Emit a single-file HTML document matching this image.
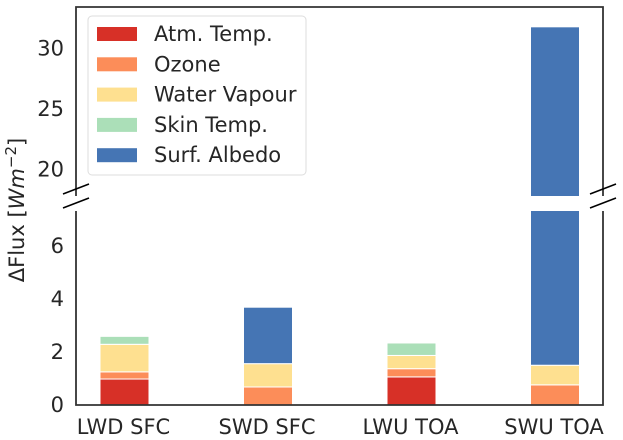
<!DOCTYPE html>
<html><head><meta charset="utf-8"><style>
body{margin:0;background:#fff;}
svg{display:block;font-family:"DejaVu Sans","Liberation Sans",sans-serif;}
</style></head><body>
<svg id="chart" width="623" height="440" viewBox="0 0 623 440" xmlns="http://www.w3.org/2000/svg"></svg>
<script>
const categories = ["LWD SFC","SWD SFC","LWU TOA","SWU TOA"];
const seriesNames = ["Atm. Temp.","Ozone","Water Vapour","Skin Temp.","Surf. Albedo"];
const atmTemp = [0.98, 0, 1.06, 0];
const ozone = [0.27, 0.68, 0.31, 0.76];
const waterVapour = [1.04, 0.88, 0.50, 0.74];
const skinTemp = [0.30, 0, 0.47, 0];
const surfAlbedo = [0, 2.13, 0, 30.3];
const lowTicks = [0,2,4,6];
const highTicks = [20,25,30];
const colors = ["#d73027","#fc8d59","#fee090","#abdfb8","#4575b4"];
const series = [atmTemp, ozone, waterVapour, skinTemp, surfAlbedo];

const NS="http://www.w3.org/2000/svg";
const svg=document.getElementById('chart');
function mk(tag,attrs,parent){const e=document.createElementNS(NS,tag);for(const k in attrs)e.setAttribute(k,attrs[k]);(parent||svg).appendChild(e);return e;}
const L=76,R=603;
const lo={top:211,bot:405,min:0,max:7.32};
const hi={top:7,bot:196,min:17.8,max:33.44};
function yLo(v){return lo.bot-(v-lo.min)/(lo.max-lo.min)*(lo.bot-lo.top);}
function yHi(v){return hi.bot-(v-hi.min)/(hi.max-hi.min)*(hi.bot-hi.top);}
function xCenter(i){return 124.5+i*143.5;}
const bw=49;
const FS=21;
const defs=mk('defs',{});
const cl1=mk('clipPath',{id:'cLo'},defs);mk('rect',{x:L,y:lo.top,width:R-L,height:lo.bot-lo.top},cl1);
const cl2=mk('clipPath',{id:'cHi'},defs);mk('rect',{x:L,y:hi.top,width:R-L,height:hi.bot-hi.top},cl2);
const gLo=mk('g',{'clip-path':'url(#cLo)'});
const gHi=mk('g',{'clip-path':'url(#cHi)'});
categories.forEach((c,i)=>{
  let base=0;
  series.forEach((s,j)=>{
    const v=s[i];
    if(v>0){
      const top=base+v;
      const r1=mk('rect',{x:xCenter(i)-bw/2,y:yLo(top),width:bw,height:Math.max(0,yLo(base)-yLo(top)),fill:colors[j],stroke:'#fff','stroke-width':1},gLo);
      
      
      if(top>hi.min){
        const r2=mk('rect',{x:xCenter(i)-bw/2,y:yHi(top),width:bw,height:Math.max(0,yHi(Math.max(base,hi.min-1))-yHi(top)),fill:colors[j],stroke:'#fff','stroke-width':1},gHi);
        
        
      }
    }
    base+=v;
  });
  const t=mk('text',{x:xCenter(i)-1,y:434,'text-anchor':'middle','font-size':FS,fill:'#262626'});
  t.textContent=c;
  
  
});
lowTicks.forEach(v=>{const t=mk('text',{x:64,y:yLo(v)+7,'text-anchor':'end','font-size':FS,fill:'#262626'});t.textContent=v;

});
highTicks.forEach(v=>{const t=mk('text',{x:64,y:yHi(v)+7,'text-anchor':'end','font-size':FS,fill:'#262626'});t.textContent=v;

});
mk('path',{d:`M${L},${hi.bot} V${hi.top} H${R} V${hi.bot}`,fill:'none',stroke:'#333','stroke-width':1.8});
mk('path',{d:`M${L},${lo.top} V${lo.bot} H${R} V${lo.top}`,fill:'none',stroke:'#333','stroke-width':1.8});
[[L,hi.bot-7],[L,lo.top-8],[R,hi.bot-7],[R,lo.top-8]].forEach(p=>{
  mk('line',{x1:p[0]-13,y1:p[1]+5,x2:p[0]+13,y2:p[1]-5,stroke:'#000','stroke-width':1.5});
});
const yl=mk('text',{x:24,y:210,'text-anchor':'middle','font-size':FS,fill:'#262626',transform:'rotate(-90 24 210)'});
yl.innerHTML='ΔFlux [<tspan font-style="italic">Wm</tspan><tspan dy="-8" font-size="15">−2</tspan><tspan dy="8">]</tspan>';


const lg=mk('g',{});


mk('rect',{x:88,y:16,width:218,height:159,rx:4,fill:'#fff',stroke:'#ddd','stroke-width':1},lg);
seriesNames.forEach((n,j)=>{
  const cy=34+j*30.3;
  mk('rect',{x:97,y:cy-7,width:40,height:14,fill:colors[j]},lg);
  const t=mk('text',{x:154,y:cy+7,'font-size':FS,fill:'#262626'},lg);
  t.textContent=n;
  
  
});
</script>
</body></html>
